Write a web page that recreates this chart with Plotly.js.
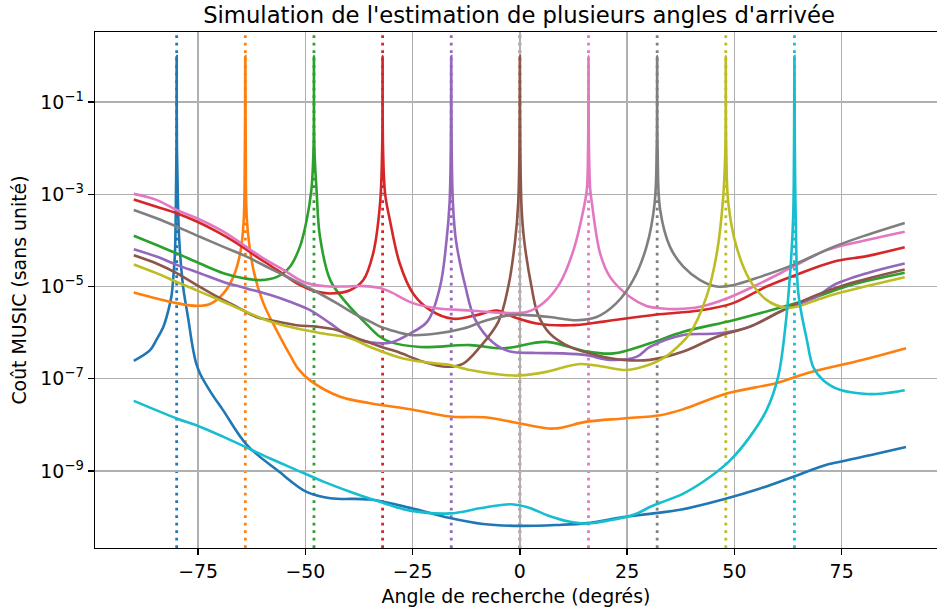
<!DOCTYPE html>
<html>
<head>
<meta charset="utf-8">
<script src="https://cdn.plot.ly/plotly-3.0.1.min.js"></script>
<style>html,body{margin:0;padding:0;background:#fff;}#chart{width:937px;height:614px;}</style>
</head>
<body>
<div id="chart"></div>
<script>
// Source angles (degrees) and tick labels
const sourceAngles = [-80, -64, -48, -32, -16, 0, 16, 32, 48, 64];
const xTickVals = [-75, -50, -25, 0, 25, 50, 75];
const yTickVals = [1e-9, 1e-7, 1e-5, 1e-3, 1e-1];
const yTickText = ['10<sup>−9</sup>', '10<sup>−7</sup>', '10<sup>−5</sup>', '10<sup>−3</sup>', '10<sup>−1</sup>'];

// Each curve: search angles (deg) and log10 of the MUSIC cost
const angM80 = [-90, -86.2, -84.7, -83.1, -81.9, -81.2, -80.7, -80.4, -80.2, -80.05, -80, -79.95, -79.7, -79.4, -78.5, -77.3, -76.3, -75.5, -74.6, -72.0, -69.2, -63.6, -56.6, -49.6, -44.2, -34.9, -25.6, -16.3, -8.6, 0, 8.6, 15.6, 24.1, 30.3, 38.0, 47.3, 56.0, 63.6, 70.6, 74.6, 81.6, 90];
const logM80 = [-6.61, -6.38, -6.15, -5.87, -5.5, -5.2, -4.7, -4.27, -3.3, -2.0, 0, -2.0, -3.2, -4.0, -5.0, -5.7, -6.3, -6.65, -6.88, -7.3, -7.68, -8.44, -8.98, -9.46, -9.59, -9.62, -9.80, -10.02, -10.15, -10.19, -10.17, -10.13, -10.0, -9.93, -9.83, -9.62, -9.38, -9.13, -8.89, -8.80, -8.66, -8.48];

const angM64 = [-90, -84.7, -80, -75.3, -72.2, -69.1, -66.8, -65.2, -64.4, -64.1, -64, -63.9, -63.6, -62.1, -59.8, -55.9, -53.5, -51.7, -49.0, -41.9, -34.9, -25.6, -16.3, -7.7, 0, 7.8, 15.6, 24.1, 32.7, 38.1, 48.2, 59.9, 66.9, 80.0, 90];
const logM64 = [-5.13, -5.26, -5.36, -5.42, -5.38, -5.15, -4.79, -4.28, -3.6, -2.0, 0, -2.0, -3.6, -4.64, -5.36, -6.09, -6.5, -6.78, -7.03, -7.39, -7.53, -7.66, -7.82, -7.84, -7.97, -8.08, -7.93, -7.86, -7.79, -7.66, -7.32, -7.09, -6.88, -6.59, -6.34];

const angM48 = [-90, -84.7, -80, -74.6, -69.1, -64.4, -60.5, -56.6, -53.6, -51.3, -49.7, -48.6, -48.1, -48, -47.9, -47.4, -46.6, -44.2, -40.4, -35.7, -32.6, -30.3, -23.3, -11.6, -3.9, 6.2, 15.6, 21.8, 30.3, 38.1, 49.8, 61.4, 69.2, 77.0, 89.7];
const logM48 = [-3.90, -4.10, -4.28, -4.50, -4.71, -4.82, -4.86, -4.79, -4.57, -4.14, -3.56, -2.9, -2.0, 0, -2.0, -2.9, -3.92, -4.86, -5.36, -5.82, -6.09, -6.20, -6.31, -6.27, -6.34, -6.20, -6.41, -6.45, -6.23, -5.98, -5.73, -5.44, -5.22, -4.97, -4.70];

const angM32 = [-90, -84.7, -80, -75.3, -70.6, -66, -61.4, -56.6, -52, -47.4, -44.2, -39.6, -36.5, -34.2, -32.6, -32.1, -32, -31.9, -31.4, -30.3, -28, -24.9, -20.9, -15.5, -10.1, -5.4, -1.5, 3.9, 11.7, 19.5, 31.5, 41.9, 49.7, 57.5, 63.7, 73.1, 80.9, 89.7];
const logM32 = [-3.11, -3.27, -3.41, -3.59, -3.81, -4.06, -4.35, -4.64, -4.93, -5.11, -5.15, -5.08, -4.86, -4.28, -3.20, -2.0, 0, -2.0, -3.0, -3.56, -4.50, -5.15, -5.51, -5.70, -5.62, -5.52, -5.66, -5.80, -5.84, -5.76, -5.61, -5.52, -5.36, -5.00, -4.77, -4.46, -4.34, -4.15];

const angM16 = [-90, -84.7, -80, -74.6, -69.1, -63.7, -58.3, -53.6, -48.9, -44.2, -39.6, -34.9, -30.3, -25.6, -21.5, -18.6, -17.1, -16.4, -16.1, -16, -15.9, -15.6, -14.9, -12.7, -10.5, -6.2, -2.3, 3.9, 10.1, 15.6, 21.0, 27.3, 30.3, 38.1, 45.9, 53.6, 61.4, 69.2, 73.1, 80.9, 89.7];
const logM16 = [-4.19, -4.35, -4.53, -4.71, -4.90, -5.04, -5.18, -5.33, -5.51, -5.80, -6.09, -6.21, -6.22, -6.02, -5.75, -5.00, -4.0, -3.2, -2.0, 0, -2.0, -3.2, -4.0, -5.0, -5.7, -6.22, -6.41, -6.44, -6.45, -6.49, -6.59, -6.52, -6.31, -6.05, -6.02, -5.87, -5.51, -5.22, -4.97, -4.71, -4.50];

const angP0 = [-90, -84.7, -80, -75.3, -70.6, -66, -61.4, -56.6, -52, -47.4, -42.7, -38, -34.9, -32.6, -28.7, -22.5, -17.1, -13.2, -9.3, -5.0, -2.7, -1.1, -0.4, -0.1, 0, 0.1, 0.4, 1.0, 2.7, 4.2, 7.0, 11.7, 17.9, 24.1, 30.3, 38.1, 45.9, 53.6, 61.4, 69.2, 77.0, 89.7];
const logP0 = [-4.32, -4.50, -4.71, -4.97, -5.22, -5.44, -5.66, -5.76, -5.84, -5.87, -5.94, -6.12, -6.22, -6.30, -6.41, -6.63, -6.74, -6.67, -6.31, -5.76, -5.00, -4.0, -3.2, -2.0, 0, -2.0, -3.3, -4.0, -5.0, -5.6, -6.02, -6.31, -6.49, -6.59, -6.59, -6.41, -6.09, -5.87, -5.51, -5.18, -4.93, -4.63];

const angP16 = [-90, -84.7, -80, -75.3, -69.1, -64.4, -59.8, -55.1, -50.4, -45.8, -41.1, -36.5, -32.6, -30.3, -24.9, -19.4, -11.6, -3.9, 1.6, 5.4, 9.3, 12.5, 14.8, 15.6, 15.9, 16, 16.1, 16.4, 16.8, 18.7, 21.0, 25.6, 29.5, 32.7, 36.6, 42.0, 48.2, 56.0, 63.7, 71.5, 80.9, 89.7];
const logP16 = [-2.99, -3.12, -3.34, -3.52, -3.81, -4.10, -4.39, -4.64, -4.90, -4.99, -5.00, -4.99, -5.03, -5.11, -5.36, -5.47, -5.52, -5.57, -5.55, -5.36, -4.93, -4.21, -3.34, -2.9, -2.0, 0, -2.0, -2.9, -3.20, -4.28, -4.79, -5.22, -5.42, -5.47, -5.49, -5.44, -5.26, -4.93, -4.57, -4.21, -3.99, -3.81];

const angP32 = [-90, -84.7, -80, -74.6, -69.1, -63.7, -58.2, -53.6, -48.1, -42.7, -38, -34.9, -32.6, -30.3, -25.6, -19.4, -13.2, -7.7, -2.3, 1.6, 7.0, 13.2, 17.9, 22.5, 26.4, 29.5, 31.4, 31.9, 32, 32.1, 32.7, 35.0, 38.1, 42.0, 45.9, 49.7, 56.0, 63.7, 73.1, 80.9, 89.7];
const logP32 = [-3.34, -3.52, -3.70, -3.92, -4.14, -4.35, -4.61, -4.82, -5.08, -5.36, -5.62, -5.76, -5.87, -5.94, -6.05, -6.02, -5.91, -5.73, -5.62, -5.62, -5.66, -5.73, -5.66, -5.36, -4.86, -4.14, -3.20, -2.0, 0, -2.0, -3.34, -4.14, -4.57, -4.86, -5.00, -4.97, -4.79, -4.53, -4.14, -3.88, -3.62];

const angP48 = [-90, -84.7, -80, -74.6, -69.1, -63.7, -58.2, -52, -45.8, -39.6, -34.9, -27.2, -19.4, -16.3, -11.6, -5.4, 0, 6.2, 14.0, 19.5, 24.9, 30.3, 32.7, 35.0, 39.6, 43.5, 45.9, 47.4, 47.9, 48, 48.1, 48.6, 50.5, 53.6, 57.5, 61.4, 64.5, 69.2, 73.9, 80.9, 89.7];
const logP48 = [-4.52, -4.71, -4.90, -5.11, -5.33, -5.55, -5.76, -5.91, -6.02, -6.12, -6.31, -6.56, -6.67, -6.70, -6.81, -6.90, -6.93, -6.85, -6.68, -6.74, -6.81, -6.69, -6.59, -6.45, -6.02, -5.22, -4.28, -3.05, -2.0, 0, -2.0, -3.20, -4.14, -4.86, -5.29, -5.45, -5.44, -5.29, -5.15, -4.99, -4.80];

const angP64 = [-90, -80, -74.6, -69.1, -63.7, -58.2, -52, -45.8, -39.6, -34.9, -30.3, -25.6, -16.3, -9.3, -2.3, 1.6, 7.0, 11.7, 15.6, 21.0, 27.3, 30.3, 32.7, 38.1, 44.3, 49.0, 53.6, 57.5, 60.2, 61.8, 63.0, 63.7, 63.9, 64, 64.1, 64.3, 64.9, 66.9, 68.4, 70.7, 74.6, 80.9, 84.7, 89.7];
const logP64 = [-7.48, -7.86, -8.04, -8.26, -8.49, -8.73, -8.98, -9.23, -9.45, -9.60, -9.74, -9.86, -9.92, -9.81, -9.72, -9.78, -9.98, -10.10, -10.14, -10.07, -9.92, -9.78, -9.69, -9.49, -9.13, -8.77, -8.26, -7.68, -6.96, -5.94, -4.71, -3.5, -2.0, 0, -2.0, -3.5, -5.14, -6.16, -6.75, -7.03, -7.24, -7.33, -7.32, -7.25];

const curveAngles = [angM80, angM64, angM48, angM32, angM16, angP0, angP16, angP32, angP48, angP64];
const curveLogCost = [logM80, logM64, logM48, logM32, logM16, logP0, logP16, logP32, logP48, logP64];

const colors = ['#1f77b4', '#ff7f0e', '#2ca02c', '#d62728', '#9467bd', '#8c564b', '#e377c2', '#7f7f7f', '#bcbd22', '#17becf'];

const traces = curveAngles.map((xs, i) => ({
  type: 'scatter', mode: 'lines',
  x: xs,
  y: curveLogCost[i].map(v => Math.pow(10, v)),
  line: {color: colors[i], width: 2.6, shape: 'spline', smoothing: 1},
  showlegend: false, hoverinfo: 'skip'
}));

const shapes = sourceAngles.map((a, i) => ({
  type: 'line', xref: 'x', yref: 'paper', x0: a, x1: a, y0: 0, y1: 1,
  layer: 'below',
  line: {color: colors[i], width: 2.8, dash: '2.8px,4.7px'}
}));

const font = 'DejaVu Sans, Liberation Sans, sans-serif';
const layout = {
  width: 937, height: 614,
  margin: {l: 95, r: 0, t: 32, b: 66},
  paper_bgcolor: '#ffffff', plot_bgcolor: '#ffffff',
  font: {family: font, size: 18.9, color: '#000'},
  title: {text: "Simulation de l'estimation de plusieurs angles d'arrivée", font: {family: font, size: 22.7, color: '#000'}, x: 0.5036, xref: 'paper', xanchor: 'center', y: 0.975, yref: 'container', yanchor: 'middle'},
  xaxis: {
    range: [-99.04, 97.23], tickvals: xTickVals, ticktext: xTickVals.map(v => v < 0 ? '−' + Math.abs(v) : String(v)),
    showgrid: true, gridcolor: '#b0b0b0', gridwidth: 1.4, zeroline: false,
    showline: true, linecolor: '#000', linewidth: 1.4, mirror: true,
    ticks: 'outside', ticklen: 6, tickwidth: 1.4, tickcolor: '#000',
    tickfont: {family: font, size: 18.9, color: '#000'},
    title: {text: 'Angle de recherche (degrés)', font: {family: font, size: 18.9, color: '#000'}, standoff: 8}
  },
  yaxis: {
    type: 'log', range: [-10.67, 0.52], tickvals: yTickVals, ticktext: yTickText,
    showgrid: true, gridcolor: '#b0b0b0', gridwidth: 1.4, zeroline: false,
    showline: true, linecolor: '#000', linewidth: 1.4, mirror: false,
    ticks: 'outside', ticklen: 6, tickwidth: 1.4, tickcolor: '#000',
    tickfont: {family: font, size: 18.9, color: '#000'},
    title: {text: 'Coût MUSIC (sans unité)', font: {family: font, size: 18.9, color: '#000'}, standoff: 8}
  },
  shapes: shapes
};

Plotly.newPlot('chart', traces, layout, {displayModeBar: false, staticPlot: true});
</script>
</body>
</html>
